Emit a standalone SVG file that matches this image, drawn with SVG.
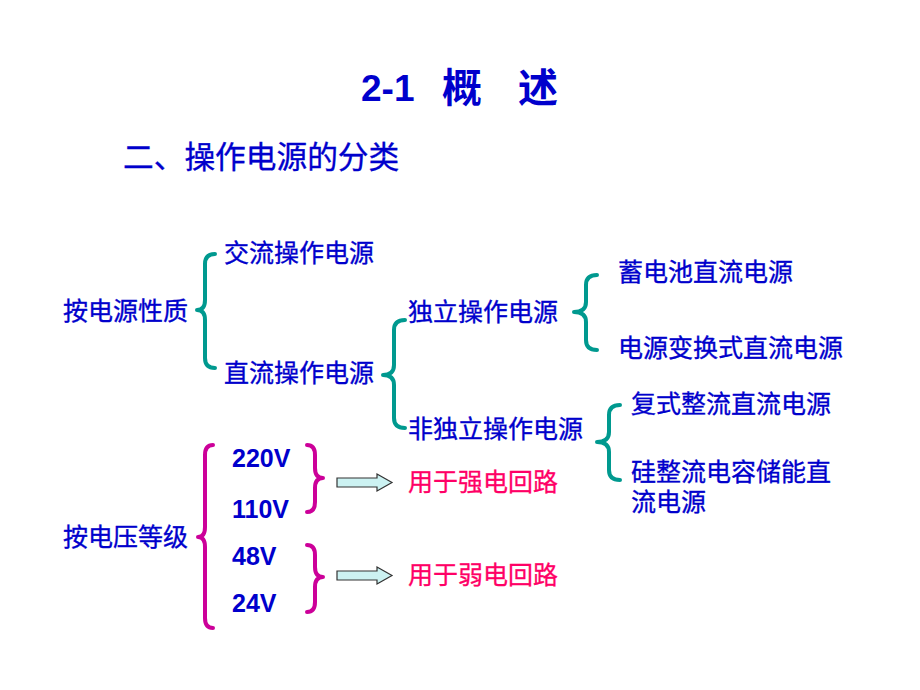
<svg xmlns="http://www.w3.org/2000/svg" width="920" height="690" viewBox="0 0 920 690">
<style>
text{font-family:"Liberation Sans","Noto Sans CJK SC",sans-serif;}
.t{fill:#0000CC;font-size:25px;stroke:#0000CC;stroke-width:0.35;}
.v{fill:#0000CC;font-size:25px;font-weight:bold;}
.r{fill:#FF0066;font-size:25px;stroke:#FF0066;stroke-width:0.3;}
.bt{fill:none;stroke:#00998F;stroke-width:4;stroke-linecap:round;stroke-linejoin:round;}
.bm{fill:none;stroke:#CC0099;stroke-width:4;stroke-linecap:round;stroke-linejoin:round;}
.ar{fill:#CCF2F2;stroke:#333333;stroke-width:1.2;}
</style>
<rect width="920" height="690" fill="#FFFFFF"/>
<g id="title">
<text x="361" y="101" fill="#0000CC" font-size="37" font-weight="bold">2-1</text>
<text x="442" y="102" fill="#0000CC" font-size="40" font-weight="bold">概</text>
<text x="518" y="102" fill="#0000CC" font-size="40" font-weight="bold">述</text>
</g>
<g id="subtitle"><text x="123" y="168" fill="#0000CC" stroke="#0000CC" stroke-width="0.35" font-size="30.7">二、操作电源的分类</text></g>
<g id="n-nature"><text class="t" x="63" y="320">按电源性质</text></g>
<g id="n-ac"><text class="t" x="224" y="262">交流操作电源</text></g>
<g id="n-dc"><text class="t" x="224" y="382">直流操作电源</text></g>
<g id="n-indep"><text class="t" x="408" y="321">独立操作电源</text></g>
<g id="n-nonindep"><text class="t" x="408" y="438">非独立操作电源</text></g>
<g id="n-battery"><text class="t" x="618" y="281">蓄电池直流电源</text></g>
<g id="n-convert"><text class="t" x="618" y="357">电源变换式直流电源</text></g>
<g id="n-rect"><text class="t" x="631" y="413">复式整流直流电源</text></g>
<g id="n-cap"><text class="t" x="631" y="481">硅整流电容储能直</text><text class="t" x="631" y="511">流电源</text></g>
<g id="n-voltage"><text class="t" x="63" y="546">按电压等级</text></g>
<g id="n-220"><text class="v" x="232" y="467">220V</text></g>
<g id="n-110"><text class="v" x="232" y="518">110V</text></g>
<g id="n-48"><text class="v" x="232" y="565">48V</text></g>
<g id="n-24"><text class="v" x="232" y="612">24V</text></g>
<g id="n-strong"><text class="r" x="408" y="491">用于强电回路</text></g>
<g id="n-weak"><text class="r" x="408" y="584">用于弱电回路</text></g>
<g id="connectors">
<path class="bt" d="M215,254 Q205,254 205,264 L205,300 Q205,310 197,310 Q205,310 205,320 L205,358 Q205,368 215,368"/>
<path class="bt" d="M405,320 Q394,320 394,330 L394,365 Q394,375 383,375 Q394,375 394,385 L394,418 Q394,428 405,428"/>
<path class="bt" d="M597,275 Q586,275 586,285 L586,302 Q586,312 574,312 Q586,312 586,322 L586,340 Q586,350 597,350"/>
<path class="bt" d="M620,405 Q609,405 609,415 L609,432 Q609,442 597,442 Q609,442 609,452 L609,470 Q609,480 620,480"/>
<path class="bm" d="M213,445 Q205,445 205,455 L205,527 Q205,537 198,537 Q205,537 205,547 L205,618 Q205,628 213,628"/>
<path class="bm" d="M307,445 Q315,445 315,455 L315,468 Q315,478 323,478 Q315,478 315,488 L315,502 Q315,512 307,512"/>
<path class="bm" d="M307,545 Q315,545 315,555 L315,567 Q315,577 323,577 Q315,577 315,587 L315,602 Q315,612 307,612"/>
<path class="ar" d="M337,478 L377,478 L377,474 L392,482.5 L377,491 L377,487 L337,487 Z"/>
<path class="ar" d="M337,571 L377,571 L377,567 L392,575.5 L377,584 L377,580 L337,580 Z"/>
</g>
</svg>
